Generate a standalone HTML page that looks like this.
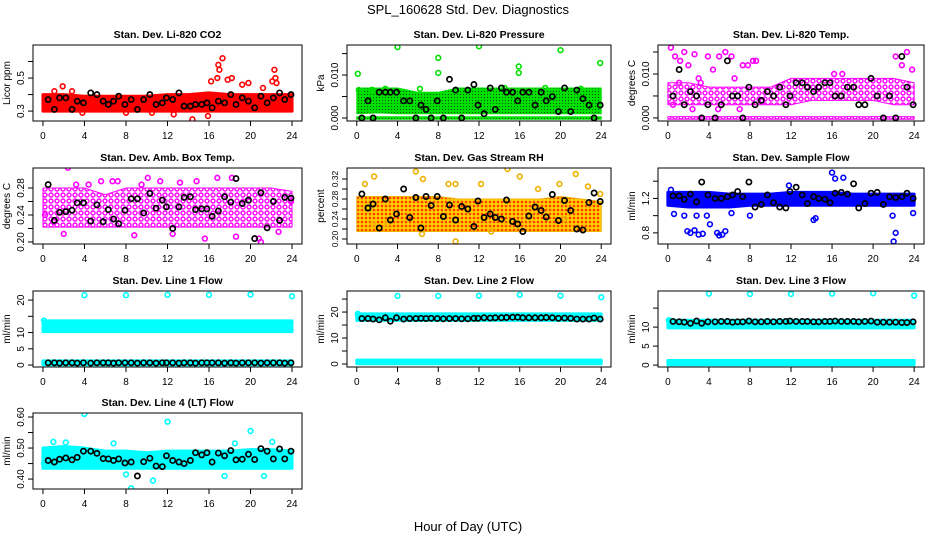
<!DOCTYPE html>
<html><head><meta charset="utf-8"><style>
html,body{margin:0;padding:0;background:#fff;}
svg{display:block;font-family:"Liberation Sans",sans-serif;}
</style></head><body>
<svg id="chart" width="936" height="540" viewBox="0 0 936 540">
<defs>
<pattern id="pat-mag" width="6" height="6" patternUnits="userSpaceOnUse"><circle cx="3" cy="3" r="2" fill="none" stroke="#ff00ff" stroke-width="1.4"/></pattern>
<pattern id="pat-rh" width="4" height="4" patternUnits="userSpaceOnUse"><rect width="4" height="4" fill="#ffd000"/><circle cx="2" cy="2" r="1.3" fill="#ff4000"/></pattern>
<pattern id="pat-grn" width="3" height="3" patternUnits="userSpaceOnUse"><rect width="3" height="3" fill="#00e000"/><rect x="1" y="1" width="1" height="1" fill="#105010"/></pattern>
</defs>
<text x="468" y="14" text-anchor="middle" font-size="13">SPL_160628  Std. Dev. Diagnostics</text>
<text x="468" y="531" text-anchor="middle" font-size="13">Hour of Day (UTC)</text>
</svg>
<script>
// ---- data ----
const xTicks = [0,4,8,12,16,20,24];
const bandHours = [0,2,4,6,8,10,12,14,16,18,20,22,24];
const blackHours = [0.5,1.1,1.6,2.2,2.8,3.3,3.9,4.6,5.2,5.8,6.3,6.8,7.3,7.9,8.5,9.1,9.7,10.3,10.9,11.5,11.9,12.5,13.1,13.6,14.2,14.7,15.3,15.8,16.3,16.9,17.5,18.1,18.6,19.2,19.8,20.4,21.0,21.6,22.2,22.8,23.3,23.9];

const titles = ["Stan. Dev. Li-820 CO2","Stan. Dev. Li-820 Pressure","Stan. Dev. Li-820 Temp.","Stan. Dev. Amb. Box Temp.","Stan. Dev. Gas Stream RH","Stan. Dev. Sample Flow","Stan. Dev. Line 1 Flow","Stan. Dev. Line 2 Flow","Stan. Dev. Line 3 Flow","Stan. Dev. Line 4 (LT) Flow"];
const yTitles = ["Licor ppm","kPa","degrees C","degrees C","percent","ml/min","ml/min","ml/min","ml/min","ml/min"];
const colors = ["#ff0000","#00e000","#ff00ff","#ff00ff","#f0b000","#0000ff","#00ffff","#00ffff","#00ffff","#00ffff"];
const bandFills = ["#ff0000","url(#pat-grn)","url(#pat-mag)","url(#pat-mag)","url(#pat-rh)","#0000ff","#00ffff","#00ffff","#00ffff","#00ffff"];
const yDomains = [[0.24,0.70],[-0.0007,0.017],[-0.0007,0.0166],[0.197,0.3096],[0.19,0.342],[0.671,1.553],[-0.6,22.8],[-1.15,28.1],[-0.5,19.5],[0.368,0.613]];
const yTickVals = [[0.3,0.4,0.5,0.6],[0,0.005,0.010,0.015],[0,0.005,0.010,0.015],[0.20,0.22,0.24,0.26,0.28],[0.20,0.22,0.24,0.26,0.28,0.30,0.32],[0.8,1.0,1.2,1.4],[0,5,10,15,20],[0,5,10,15,20,25],[0,5,10,15],[0.40,0.45,0.50,0.55,0.60]];
const yTickLabels = [["0.3","","0.5",""],["0.000","","0.010",""],["0.000","","0.010",""],["0.20","","0.24","","0.28"],["0.20","","0.24","","0.28","","0.32"],["0.8","","1.2",""],["0","5","10","","20"],["0","","10","","20",""],["0","5","10",""],["0.40","","0.50","","0.60"]];

const bandsLo = [
 [[0.30,0.30,0.30,0.30,0.30,0.30,0.30,0.30,0.30,0.30,0.30,0.30,0.30]],
 [[0.001,0.0012,0.001,0.001,0.001,0.001,0.001,0.001,0.001,0.001,0.001,0.001,0.001],[-0.0003,-0.0003,-0.0003,-0.0003,-0.0003,-0.0003,-0.0003,-0.0003,-0.0003,-0.0003,-0.0003,-0.0003,-0.0003]],
 [[0.003,0.003,0.003,0.003,0.003,0.003,0.003,0.004,0.004,0.004,0.004,0.003,0.003],[-0.0003,-0.0003,-0.0003,-0.0003,-0.0003,-0.0003,-0.0003,-0.0003,-0.0003,-0.0003,-0.0003,-0.0003,-0.0003]],
 [[0.222,0.222,0.222,0.222,0.222,0.222,0.222,0.222,0.222,0.222,0.222,0.222,0.222]],
 [[0.215,0.215,0.215,0.215,0.215,0.215,0.215,0.215,0.215,0.215,0.215,0.215,0.215]],
 [[1.12,1.1,1.1,1.1,1.12,1.12,1.12,1.12,1.12,1.12,1.12,1.12,1.12]],
 [[10.3,10.3,10.3,10.3,10.3,10.3,10.3,10.3,10.3,10.3,10.3,10.3,10.3],[12.5,12.5,12.5,12.5,12.5,12.5,12.5,12.5,12.5,12.5,12.5,12.5,12.5],[0.1,0.1,0.1,0.1,0.1,0.1,0.1,0.1,0.1,0.1,0.1,0.1,0.1]],
 [[16.8,16.8,16.8,16.8,16.8,16.8,16.8,16.8,16.8,16.8,16.8,16.8,16.8],[0.1,0.1,0.1,0.1,0.1,0.1,0.1,0.1,0.1,0.1,0.1,0.1,0.1]],
 [[9.8,9.8,9.8,9.8,9.8,9.8,9.8,9.8,9.8,9.8,9.8,9.8,9.8],[0.1,0.1,0.1,0.1,0.1,0.1,0.1,0.1,0.1,0.1,0.1,0.1,0.1]],
 [[0.435,0.435,0.435,0.435,0.435,0.435,0.435,0.435,0.435,0.435,0.435,0.435,0.435]]
];
const bandsHi = [
 [[0.40,0.40,0.39,0.39,0.39,0.39,0.40,0.40,0.41,0.40,0.40,0.40,0.40]],
 [[0.007,0.007,0.007,0.006,0.006,0.007,0.007,0.007,0.007,0.007,0.007,0.007,0.007],[0.0003,0.0003,0.0003,0.0003,0.0003,0.0003,0.0003,0.0003,0.0003,0.0003,0.0003,0.0003,0.0003]],
 [[0.008,0.008,0.007,0.007,0.007,0.007,0.009,0.009,0.009,0.009,0.009,0.009,0.008],[0.0003,0.0003,0.0003,0.0003,0.0003,0.0003,0.0003,0.0003,0.0003,0.0003,0.0003,0.0003,0.0003]],
 [[0.28,0.28,0.28,0.27,0.28,0.28,0.28,0.28,0.28,0.28,0.28,0.28,0.275]],
 [[0.285,0.285,0.285,0.285,0.285,0.28,0.28,0.28,0.28,0.28,0.285,0.28,0.275]],
 [[1.27,1.27,1.27,1.25,1.25,1.25,1.27,1.27,1.27,1.25,1.25,1.25,1.25]],
 [[11.6,11.6,11.6,11.6,11.6,11.6,11.6,11.6,11.6,11.6,11.6,11.6,11.6],[13.6,13.6,13.6,13.6,13.6,13.6,13.6,13.6,13.6,13.6,13.6,13.6,13.6],[1.3,1.3,1.3,1.3,1.3,1.3,1.3,1.3,1.3,1.3,1.3,1.3,1.3]],
 [[19.3,19.3,19.3,19.3,19.3,19.3,19.3,19.3,19.3,19.3,19.3,19.3,19.3],[1.5,1.5,1.5,1.5,1.5,1.5,1.5,1.5,1.5,1.5,1.5,1.5,1.5]],
 [[11.8,11.8,11.8,11.8,11.8,11.8,11.8,11.8,11.8,11.8,11.8,11.8,11.8],[1.2,1.2,1.2,1.2,1.2,1.2,1.2,1.2,1.2,1.2,1.2,1.2,1.2]],
 [[0.50,0.505,0.50,0.49,0.49,0.485,0.49,0.49,0.49,0.49,0.495,0.495,0.49]]
];
const outX = [
 [1.9,1.1,2.8,16.2,16.8,17.0,17.3,16.9,17.8,18.2,19.2,19.8,21.2,21.9,22.1,22.3,22.4,22.5,14.4,15.9,12.6,8.0,10.5,3.8],
 [4,8,8,12,15.9,15.9,20,23.9,0.1,0.2,1.5,2.5,6.2,9.8,14.5,18.5,22,2.8],
 [0.3,0.7,1.2,1.6,2.0,2.6,3.2,3.9,4.4,5.0,5.6,6.2,7.3,7.8,8.3,8.6,22.2,22.8,23.3,23.8,1.1,3.0,6.5,9.2,0.5,2.4,4.9,7.0,17.0,16.2],
 [2.4,10.1,14.8,16.8,18.2,4.4,6.7,1.0,2.0,8.8,12.5,20.8,22.7,15.6,18.6,21.0,0.2,3.2,5.6,7.2,9.5,11.3,13.2,23.9],
 [0.8,1.7,5.8,6.5,9.0,9.7,12.2,14.8,16.0,17.8,19.9,21.5,22.7,23.9,6.4,1.6,3.0,9.7,13.2,20.4],
 [0.3,1.9,2.2,2.6,3.0,3.4,4.1,4.8,5.0,5.3,5.6,2.8,3.8,16.0,16.3,17.1,22.0,22.2,21.9,14.2,14.4,0.6,1.6,11.8,23.9,6.2,8.0],
 [4,8,12,16,20,24,0.1],
 [4,8,12,16,20,24,0.1],
 [4,8,12,16,20,24,0.1],
 [4,12,20,8.5,10.6,17.5,8.0,1.0,2.2,6.8,18.5,21.3,22.1,0.1,3.8,14.9]
];
const outY = [
 [0.45,0.42,0.42,0.48,0.5,0.55,0.62,0.58,0.49,0.5,0.46,0.47,0.44,0.72,0.48,0.55,0.5,0.47,0.25,0.27,0.28,0.29,0.29,0.29],
 [0.0165,0.014,0.0105,0.0167,0.012,0.0105,0.0158,0.0128,0.0103,0.0065,0.0066,0.006,0.0068,0.0065,0.007,0.007,0.0068,0.0068],
 [0.016,0.014,0.013,0.015,0.012,0.0145,0.008,0.014,0.011,0.014,0.015,0.014,0.012,0.012,0.013,0.013,0.014,0.012,0.015,0.011,0.008,0.009,0.009,0.004,0.003,0.002,0.002,0.002,0.010,0.010],
 [0.31,0.295,0.29,0.295,0.295,0.285,0.29,0.23,0.212,0.21,0.212,0.205,0.215,0.205,0.208,0.2,0.24,0.285,0.29,0.29,0.285,0.29,0.288,0.26],
 [0.31,0.325,0.335,0.32,0.31,0.31,0.31,0.34,0.325,0.3,0.31,0.33,0.305,0.29,0.21,0.23,0.23,0.195,0.215,0.24],
 [1.3,0.82,0.8,0.83,0.78,0.79,0.9,0.8,0.77,0.78,0.82,1.0,1.0,1.5,1.43,1.44,0.7,0.8,1.0,0.95,0.97,1.02,1.0,1.35,1.03,1.03,1.0],
 [21.5,21.5,21.6,21.6,21.7,21.2,13.7],
 [26.2,26.2,26.3,26.6,26.3,25.7,19.3],
 [18.8,18.7,18.7,18.8,18.9,18.3,11.8],
 [0.61,0.585,0.555,0.37,0.395,0.41,0.415,0.52,0.518,0.515,0.515,0.41,0.52,0.45,0.44,0.445]
];
const blackY = [
 [0.37,0.31,0.38,0.38,0.31,0.36,0.35,0.41,0.4,0.36,0.34,0.36,0.39,0.34,0.37,0.31,0.37,0.4,0.34,0.35,0.38,0.37,0.41,0.33,0.33,0.34,0.34,0.35,0.32,0.36,0.35,0.4,0.34,0.38,0.36,0.32,0.39,0.35,0.38,0.41,0.37,0.4],
 [0,0.004,0,0.006,0.006,0.006,0.006,0.004,0.004,0,0.003,0.002,0,0.004,0,0.009,0.0065,0,0.0065,0.0078,0.003,0.001,0.007,0.002,0.007,0.006,0.006,0.004,0.006,0.006,0.003,0.006,0.004,0.005,0.0015,0.007,0.0015,0.0065,0.0045,0.003,0,0.003],
 [0.005,0.011,0.003,0.006,0.005,0,0.003,0,0.003,0.013,0.005,0.005,0,0.007,0.003,0.004,0.006,0.005,0.007,0.003,0.005,0.008,0.008,0.007,0.006,0.007,0.008,0.008,0.005,0.005,0.007,0.007,0.003,0.003,0.009,0.005,0,0.005,0,0.014,0.007,0.003],
 [0.285,0.232,0.244,0.245,0.247,0.258,0.258,0.231,0.255,0.23,0.248,0.234,0.227,0.247,0.264,0.264,0.243,0.272,0.25,0.262,0.252,0.22,0.252,0.266,0.267,0.248,0.249,0.249,0.238,0.246,0.267,0.259,0.294,0.257,0.262,0.205,0.273,0.221,0.26,0.232,0.266,0.265],
 [0.29,0.262,0.27,0.222,0.28,0.238,0.25,0.3,0.243,0.283,0.222,0.285,0.267,0.285,0.245,0.268,0.238,0.265,0.26,0.225,0.276,0.243,0.25,0.243,0.24,0.278,0.235,0.23,0.215,0.246,0.264,0.257,0.244,0.289,0.237,0.277,0.257,0.22,0.218,0.273,0.292,0.275],
 [1.23,1.23,1.19,1.25,1.16,1.39,1.24,1.2,1.2,1.22,1.24,1.28,1.22,1.39,1.1,1.13,1.24,1.15,1.1,1.09,1.28,1.33,1.24,1.14,1.22,1.2,1.19,1.15,1.26,1.27,1.25,1.37,1.09,1.14,1.26,1.27,1.13,1.22,1.21,1.22,1.26,1.2],
 [0.7,0.7,0.6,0.7,0.7,0.6,0.7,0.6,0.7,0.7,0.7,0.6,0.7,0.7,0.7,0.6,0.7,0.7,0.6,0.7,0.7,0.7,0.6,0.7,0.7,0.6,0.7,0.7,0.7,0.7,0.6,0.7,0.6,0.7,0.7,0.7,0.6,0.7,0.7,0.7,0.6,0.7],
 [17.5,17.5,17.3,17.0,17.8,16.5,17.8,17.3,17.5,17.5,17.6,17.5,17.6,17.5,17.4,17.5,17.5,17.4,17.4,17.6,17.6,17.8,17.7,17.8,17.8,17.9,18.0,18.0,17.8,17.8,17.8,17.8,17.9,17.8,17.6,17.7,17.6,17.3,17.3,17.3,17.7,17.3],
 [11.5,11.4,11.3,11.0,11.6,11.0,11.4,11.4,11.5,11.5,11.3,11.4,11.4,11.6,11.4,11.4,11.5,11.4,11.5,11.5,11.6,11.5,11.5,11.5,11.4,11.4,11.5,11.5,11.6,11.5,11.5,11.5,11.4,11.5,11.6,11.3,11.3,11.3,11.3,11.2,11.2,11.4],
 [0.46,0.455,0.464,0.468,0.462,0.47,0.49,0.49,0.483,0.466,0.465,0.46,0.465,0.452,0.455,0.41,0.456,0.467,0.442,0.44,0.475,0.46,0.455,0.45,0.46,0.485,0.478,0.485,0.455,0.484,0.475,0.492,0.462,0.464,0.48,0.463,0.498,0.49,0.465,0.497,0.465,0.49]
];

// ---- layout ----
const colBox = [[33,302],[347,611],[658,924]];
const rowBox = [[45,121],[168,244],[291,367],[413,489]];
const NS = "http://www.w3.org/2000/svg";
const svg = document.getElementById("chart");
function mk(tag, attrs, parent){
  const e = document.createElementNS(NS, tag);
  for (const k in attrs) e.setAttribute(k, attrs[k]);
  (parent||svg).appendChild(e);
  return e;
}

titles.forEach((title, p) => {
  const [x0,x1] = colBox[p%3];
  const [y0,y1] = rowBox[Math.floor(p/3)];
  const [dmin,dmax] = yDomains[p];
  const xs = h => x0 + (h + 0.96) / 25.92 * (x1 - x0);
  const ys = v => y1 - (v - dmin) / (dmax - dmin) * (y1 - y0);
  const g = mk("g", {});
  
  
  const clip = mk("clipPath", {id: "clip"+p}, g);
  mk("rect", {x:x0, y:y0, width:x1-x0, height:y1-y0}, clip);
  const plot = mk("g", {"clip-path": "url(#clip"+p+")"}, g);
  
  
  bandsLo[p].forEach((lo, b) => {
    const hi = bandsHi[p][b];
    let pts = bandHours.map((h,i) => xs(h) + "," + ys(hi[i]));
    pts = pts.concat(bandHours.slice().reverse().map((h,i) => xs(h) + "," + ys(lo[lo.length-1-i])));
    const patterned = bandFills[p].startsWith("url");
    const poly = mk("polygon", {points: pts.join(" "), fill: bandFills[p], stroke: colors[p], "stroke-width": patterned?1:3, "stroke-linejoin":"round"}, plot);
    
    
  });
  outX[p].forEach((h,i) => {
    const c = mk("circle", {cx: xs(h), cy: ys(outY[p][i]), r: 2.4, fill: "none", stroke: colors[p], "stroke-width": 1.6}, plot);
    
    
  });
  blackHours.forEach((h,i) => {
    const c = mk("circle", {cx: xs(h), cy: ys(blackY[p][i]), r: 2.6, fill: "none", stroke: "#000", "stroke-width": 1.7}, plot);
    
    
  });
  const box = mk("rect", {x:x0, y:y0, width:x1-x0, height:y1-y0, fill:"none", stroke:"#000", "stroke-width":1}, g);
  
  
  const t = mk("text", {x:(x0+x1)/2, y:y0-7, "text-anchor":"middle", "font-size":10.5, "font-weight":"bold"}, g);
  t.textContent = title;
  
  
  const xa = mk("g", {}, g);
  
  
  mk("line", {x1:xs(0), x2:xs(24), y1:y1, y2:y1, stroke:"#000"}, xa);
  xTicks.forEach(v => {
    mk("line", {x1:xs(v), x2:xs(v), y1:y1, y2:y1+5, stroke:"#000"}, xa);
    const l = mk("text", {x:xs(v), y:y1+18, "text-anchor":"middle", "font-size":10}, xa);
    l.textContent = v;
    
    
  });
  const ya = mk("g", {}, g);
  
  
  const tv = yTickVals[p];
  mk("line", {x1:x0, x2:x0, y1:ys(tv[0]), y2:ys(tv[tv.length-1]), stroke:"#000"}, ya);
  tv.forEach((v,i) => {
    mk("line", {x1:x0-5, x2:x0, y1:ys(v), y2:ys(v), stroke:"#000"}, ya);
    const lab = yTickLabels[p][i];
    if (lab) {
      const l = mk("text", {x:x0-9, y:ys(v), "text-anchor":"middle", "font-size":(p===4?8.5:10), transform:"rotate(-90 "+(x0-9)+" "+ys(v)+")"}, ya);
      l.textContent = lab;
      
      
    }
  });
  const yt = mk("text", {x:x0-23, y:(y0+y1)/2, "text-anchor":"middle", "font-size":10, transform:"rotate(-90 "+(x0-23)+" "+((y0+y1)/2)+")"}, g);
  yt.textContent = yTitles[p];
  
  
});
</script>
</body></html>
